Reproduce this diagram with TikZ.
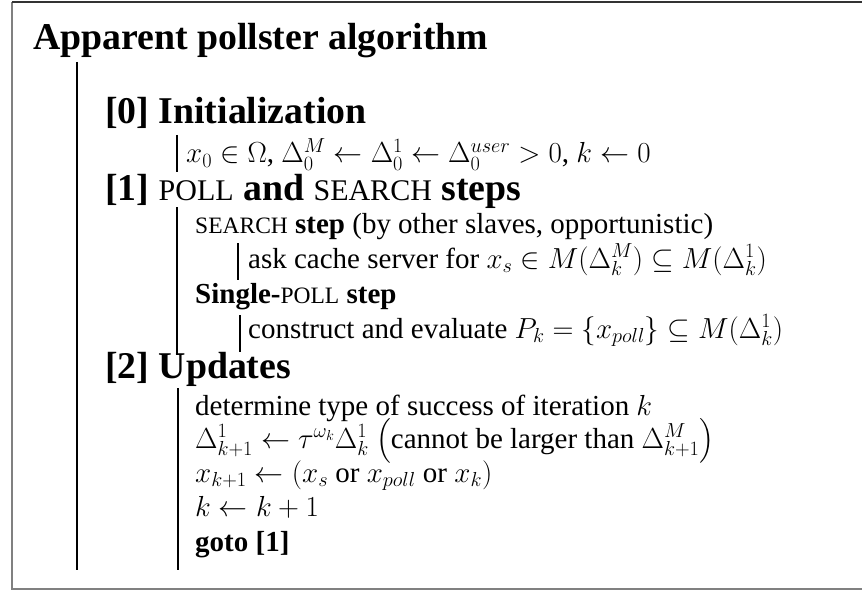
\RequirePackage{fix-cm}
\documentclass[tikz,border=0pt]{standalone}
\usepackage{amsmath}
\usepackage[no-math]{fontspec}
\setmainfont{Liberation Serif}
\tikzset{
  txt/.style={anchor=base west, inner sep=0pt, font=\fontsize{29}{35}\selectfont},
  head/.style={anchor=base west, inner sep=0pt, font=\fontsize{37.8}{44}\selectfont\bfseries},
  bar/.style={line width=1.1pt, black},
  frameline/.style={line width=1.6pt, black!50},
  frametop/.style={line width=1.6pt, black!80},
}
\newcommand\scbody[1]{{\fontsize{23.5}{24}\selectfont #1}}
\newcommand\schead[1]{{\fontsize{30}{30}\selectfont\mdseries #1}}
\begin{document}
\begin{tikzpicture}[x=1pt,y=-1pt]
\useasboundingbox (0,0) rectangle (862,591);
% frame (no right side)
\coordinate (ftr) at (862,2); \coordinate (ftl) at (12,2);
\coordinate (fbl) at (12,589); \coordinate (fbr) at (862,589);
\draw[frameline] (ftl) -- (fbl) -- (fbr);
\draw[frametop] (ftl) -- (ftr);
% title
\node[head] (title) at (33,50) {Apparent pollster algorithm};
% headings
\node[head] (h0) at (105,124) {[0] Initialization};
\node[head] (h1) at (105,200) {[1] \schead{POLL} and \schead{SEARCH} steps};
\node[head] (h2) at (105,378) {[2] Updates};
% body
\node[txt] (init) at (186,163) {$x_0\in\Omega$, $\Delta_0^M\leftarrow\Delta_0^1\leftarrow\Delta_0^{user}>0$, $k\leftarrow 0$};
\node[txt] (search) at (195,233) {\scbody{SEARCH} \textbf{step} (by other slaves, opportunistic)};
\node[txt] (ask) at (248,268) {ask cache server for $x_s\in M(\Delta_k^M)\subseteq M(\Delta_k^1)$};
\node[txt] (single) at (195,303) {\textbf{Single-}\scbody{POLL} \textbf{step}};
\node[txt] (constr) at (248,338) {construct and evaluate $P_k=\{x_{poll}\}\subseteq M(\Delta_k^1)$};
\node[txt] (det) at (195,415) {determine type of success of iteration $k$};
\node[txt] (upd) at (195,448) {$\Delta_{k+1}^1\leftarrow\tau^{\omega_k}\Delta_k^1$ $\bigl($cannot be larger than $\Delta_{k+1}^M\bigr)$};
\node[txt] (xup) at (195,482) {$x_{k+1}\leftarrow(x_s$ or $x_{poll}$ or $x_k)$};
\node[txt] (kup) at (195,516) {$k\leftarrow k+1$};
\node[txt] (goto) at (195,551) {\textbf{goto [1]}};
% bars
\coordinate (b0t) at (77,62);   \coordinate (b0b) at (77,570);
\coordinate (b1t) at (177,135); \coordinate (b1b) at (177,172);
\coordinate (b2t) at (177,207); \coordinate (b2b) at (177,355);
\coordinate (b3t) at (238,243); \coordinate (b3b) at (238,280);
\coordinate (b4t) at (240,315); \coordinate (b4b) at (240,352);
\coordinate (b5t) at (178,388); \coordinate (b5b) at (178,570);
\draw[bar] (b0t) -- (b0b);
\draw[bar] (b1t) -- (b1b);
\draw[bar] (b2t) -- (b2b);
\draw[bar] (b3t) -- (b3b);
\draw[bar] (b4t) -- (b4b);
\draw[bar] (b5t) -- (b5b);
\end{tikzpicture}
\end{document}
